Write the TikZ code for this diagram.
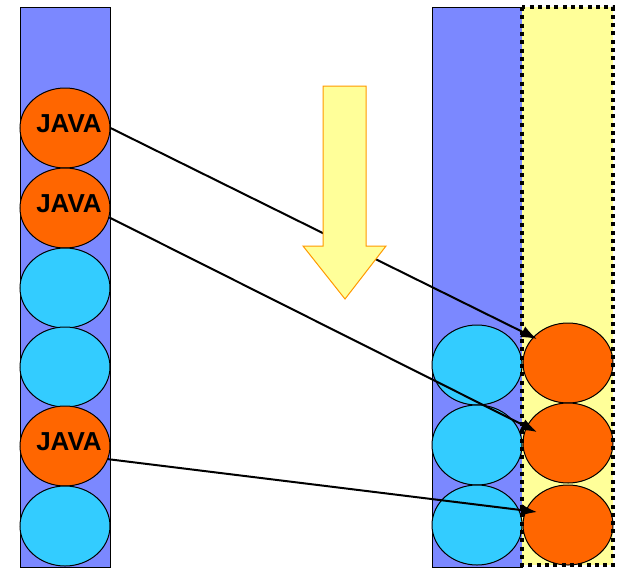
\documentclass[tikz,border=0pt]{standalone}
\usepackage{fontspec}
\setmainfont{Liberation Sans}
\usetikzlibrary{shapes.geometric, arrows.meta, calc}

\definecolor{colblue}{RGB}{123,136,255}
\definecolor{ballorange}{RGB}{255,102,0}
\definecolor{ballcyan}{RGB}{51,204,255}
\definecolor{boxyellow}{RGB}{255,255,153}
\definecolor{arroworange}{RGB}{255,153,0}

\tikzset{
  ball/.style={ellipse, draw=black, line width=1pt, minimum width=90pt, minimum height=80pt, inner sep=0pt},
  javaball/.style={ball, fill=ballorange, label={[font=\bfseries\fontsize{26}{26}\selectfont, xshift=4pt, yshift=4pt]center:JAVA}},
  orangeball/.style={ball, fill=ballorange},
  cyanball/.style={ball, fill=ballcyan},
  move/.style={line width=2pt, -{Latex[length=16pt,width=12pt]}}
}

\begin{document}
\begin{tikzpicture}[x=1pt, y=-1pt]
\useasboundingbox (0,0) rectangle (620,568);
% Draw the columns
\draw[fill=colblue, line width=1pt] (20,7) rectangle (110,567);
\draw[fill=colblue, line width=1pt] (432,7) rectangle (522,567);
\fill[boxyellow] (522,7) rectangle (613,565);

% Draw the left column
\node[javaball] (l1) at (65,128) {};
\node[javaball] (l2) at (65,208) {};
\node[cyanball] (l3) at (65,288) {};
\node[cyanball] (l4) at (65,367) {};
\node[javaball] (l5) at (65,446) {};
\node[cyanball] (l6) at (65,526) {};

% Draw the right column
\node[cyanball] (b1) at (477,365) {};
\node[cyanball] (b2) at (477,445) {};
\node[cyanball] (b3) at (477,525) {};
\node[orangeball] (o1) at (568,363) {};
\node[orangeball] (o2) at (568,443) {};
\node[orangeball] (o3) at (568,525) {};
\draw[line width=3.5pt, dash pattern=on 4pt off 4.3pt] (522,7) rectangle (613,565);

% Draw the moves
\draw[move] (l1.east) -- ($(o1)+(-31,-24)$);
\draw[move] (l2.-12) -- ($(o2)+(-31,-11)$);
\draw[move] (l5.-17) -- ($(o3)+(-31,-13)$);

% Draw the yellow arrow
\draw[fill=boxyellow, draw=arroworange, line width=1pt, line join=miter] (323,86) -- (366,86) -- (366,246) -- (386,246) -- (345,299) -- (303,246) -- (323,246) -- cycle;
\end{tikzpicture}
\end{document}
